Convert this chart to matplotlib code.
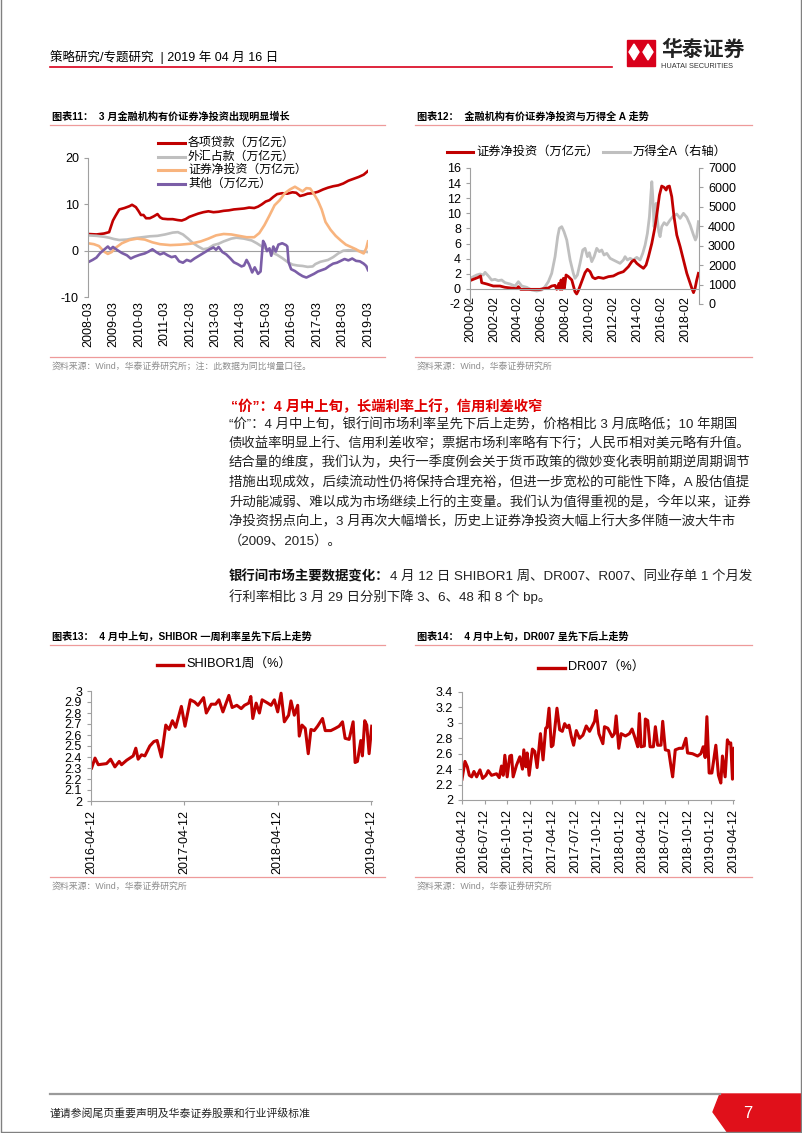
"""Page 7 of the Huatai strategy report: four charts plus commentary text.

Everything is placed in pixel coordinates of an 802x1133 page (dpi=100).
"""

import matplotlib
matplotlib.use("Agg")
import matplotlib.pyplot as plt
from matplotlib.lines import Line2D
from matplotlib.patches import Polygon, Rectangle

plt.rcParams["font.family"] = ["Liberation Sans", "Noto Sans CJK SC"]
plt.rcParams["axes.unicode_minus"] = False

W, H = 802, 1133
RED = "#C00000"
GREY = "#BFBFBF"
ORANGE = "#F8B47E"
PURPLE = "#7B5EA7"
AXIS = "#A0A0A0"
PINK = "#EE9A9A"
BRAND = "#D9001B"
SOURCE = "#8C8C8C"

# ---- chart 11: monthly-ish readings, decimal years ----
LOAN_T = [2008.17, 2008.5, 2008.8, 2009.0, 2009.15, 2009.25, 2009.4, 2009.6, 2009.8, 2009.9,
          2010.05, 2010.15, 2010.25, 2010.35, 2010.45, 2010.6, 2010.75, 2010.9, 2011.0, 2011.1,
          2011.3, 2011.5, 2011.7, 2011.85, 2012.0, 2012.15, 2012.3, 2012.5, 2012.7, 2012.9,
          2013.1, 2013.3, 2013.5, 2013.7, 2013.9, 2014.1, 2014.3, 2014.5, 2014.7, 2014.85,
          2015.0, 2015.15, 2015.3, 2015.45, 2015.6, 2015.8, 2016.0, 2016.2, 2016.35, 2016.5,
          2016.65, 2016.8, 2017.0, 2017.2, 2017.4, 2017.6, 2017.8, 2018.0, 2018.2, 2018.4,
          2018.6, 2018.8, 2019.0, 2019.17]
LOAN_V = [3.6, 3.5, 3.7, 4.0, 6.5, 7.5, 8.9, 9.2, 9.6, 9.9,
          9.4, 8.6, 7.7, 7.7, 7.0, 7.0, 7.4, 7.9, 7.2, 6.9,
          6.8, 6.8, 6.6, 6.5, 6.8, 7.3, 7.6, 8.0, 8.3, 8.5,
          8.3, 8.4, 8.6, 8.7, 8.9, 9.0, 9.1, 9.3, 9.2, 9.5,
          10.0, 10.6, 10.9, 11.6, 12.2, 12.4, 12.3, 12.6, 12.5, 11.8,
          12.0, 12.3, 12.4, 12.7, 13.2, 13.6, 13.9, 14.1, 14.5, 15.1,
          15.5, 15.9, 16.4, 17.2]

FX_T = [2008.17, 2008.5, 2008.8, 2009.0, 2009.2, 2009.4, 2009.7, 2010.0, 2010.3, 2010.6,
        2010.9, 2011.2, 2011.5, 2011.7, 2011.9, 2012.1, 2012.3, 2012.5, 2012.7, 2012.9,
        2013.1, 2013.3, 2013.5, 2013.8, 2014.0, 2014.3, 2014.6, 2014.8, 2015.0, 2015.2,
        2015.4, 2015.6, 2015.8, 2016.0, 2016.2, 2016.4, 2016.6, 2016.8, 2017.0, 2017.1,
        2017.3, 2017.6, 2017.8, 2018.0, 2018.2, 2018.4, 2018.7, 2019.0, 2019.17]
FX_V = [3.3, 3.2, 3.0, 2.8, 2.5, 2.3, 2.4, 2.7, 2.9, 3.1,
        3.2, 3.5, 3.9, 4.0, 3.5, 2.6, 1.6, 0.9, 0.3, 0.5,
        1.2, 1.5, 2.0, 2.6, 2.8, 2.6, 2.2, 1.6, 0.9, 0.3,
        -0.4, -0.9, -1.6, -2.4, -3.0, -3.2, -3.3, -3.5, -3.4, -2.9,
        -2.4, -2.0, -1.4, -0.6, 0.0, 0.1, 0.0, -0.2, -0.3]

BOND_T = [2008.17, 2008.4, 2008.6, 2008.8, 2008.95, 2009.1, 2009.25, 2009.5, 2009.8, 2010.1,
          2010.4, 2010.7, 2011.0, 2011.4, 2011.8, 2012.2, 2012.6, 2012.9, 2013.2, 2013.5,
          2013.8, 2014.1, 2014.4, 2014.7, 2014.9, 2015.1, 2015.3, 2015.5, 2015.7, 2015.9,
          2016.1, 2016.3, 2016.45, 2016.6, 2016.75, 2016.9, 2017.05, 2017.2, 2017.35, 2017.5,
          2017.7, 2017.9, 2018.1, 2018.3, 2018.5, 2018.7, 2018.85, 2019.0, 2019.1, 2019.17]
BOND_V = [1.6, 1.4, 1.0, -0.2, -0.7, -0.3, 0.6, 1.6, 2.3, 2.6,
          2.4, 1.8, 1.4, 1.2, 1.3, 1.5, 2.0, 2.6, 3.3, 3.6,
          3.5, 3.2, 2.9, 2.9, 3.8, 5.5, 7.6, 9.8, 10.9, 12.4,
          13.2, 13.8, 13.3, 12.8, 13.5, 13.4, 12.2, 10.8, 8.9, 6.2,
          4.5, 3.2, 2.2, 1.3, 0.8, 0.3, -0.2, -0.6, 0.5, 2.0]

OTHER_T = [2008.17, 2008.35, 2008.5, 2008.65, 2008.8, 2008.95, 2009.05, 2009.15, 2009.3, 2009.5,
           2009.7, 2009.85, 2010.0, 2010.2, 2010.4, 2010.55, 2010.7, 2010.85, 2011.0, 2011.15,
           2011.3, 2011.45, 2011.6, 2011.75, 2011.9, 2012.05, 2012.2, 2012.35, 2012.5, 2012.65,
           2012.8, 2012.95, 2013.1, 2013.2, 2013.3, 2013.45, 2013.6, 2013.75, 2013.9, 2014.05,
           2014.2, 2014.3, 2014.4, 2014.5, 2014.62, 2014.72, 2014.85, 2014.95, 2015.0, 2015.05,
           2015.12, 2015.2, 2015.3, 2015.37, 2015.45, 2015.55, 2015.65, 2015.8, 2015.95, 2016.0,
           2016.05, 2016.15, 2016.3, 2016.45, 2016.6, 2016.75, 2016.9, 2017.05, 2017.2, 2017.35,
           2017.5, 2017.65, 2017.8, 2017.95, 2018.1, 2018.25, 2018.4, 2018.55, 2018.7, 2018.85,
           2019.0, 2019.1, 2019.17]
OTHER_V = [-2.5, -2.0, -1.5, -0.5, 0.2, 0.9, 0.3, 0.8, 0.2, -0.5,
           -1.0, -1.7, -1.3, -0.9, -0.6, -0.2, 0.3, -0.3, -0.8, -0.5,
           -1.0, -1.4, -1.2, -2.3, -2.6, -2.0, -2.3, -1.7, -1.2, -0.7,
           -0.2, 0.3, 0.7, 0.2, 0.8, -0.3, -0.8, -1.6, -2.5, -2.9,
           -3.4, -3.2, -2.0, -3.0, -4.7, -3.6, -5.0, -4.5, -1.0, 2.1,
           1.4, -0.1, 0.5, -1.1, 0.9, -0.2, 1.3, 1.6, 1.2, 0.9,
           -2.5, -4.0, -4.4, -5.0, -5.5, -5.8, -5.4, -5.0, -4.5, -4.2,
           -3.9, -3.3, -2.8, -2.6, -2.2, -1.8, -2.1, -1.7, -2.2, -2.3,
           -2.8, -3.3, -4.2]

X11_LABELS = ["2008-03", "2009-03", "2010-03", "2011-03", "2012-03", "2013-03",
              "2014-03", "2015-03", "2016-03", "2017-03", "2018-03", "2019-03"]
LEGEND11 = ["各项贷款（万亿元）", "外汇占款（万亿元）", "证券净投资（万亿元）", "其他（万亿元）"]

# ---- chart 12 ----
SEC_T = [2000.08, 2000.36, 2000.78, 2000.97, 2001.06, 2001.48, 2002.03, 2002.59, 2003.01, 2003.71,
         2003.99, 2004.13, 2004.32, 2004.83, 2005.94, 2006.22, 2006.64, 2006.92, 2007.20, 2007.34,
         2007.53, 2007.62, 2007.70, 2007.79, 2007.90, 2007.98, 2008.12, 2008.32, 2008.60, 2008.87,
         2009.01, 2009.15, 2009.43, 2009.71, 2009.91, 2010.13, 2010.35, 2010.55, 2010.83, 2011.25,
         2011.67, 2012.08, 2012.50, 2012.92, 2013.34, 2013.62, 2013.82, 2014.04, 2014.32, 2014.60,
         2014.82, 2015.02, 2015.30, 2015.57, 2015.77, 2015.94, 2016.13, 2016.33, 2016.50, 2016.61,
         2016.77, 2016.97, 2017.16, 2017.39, 2017.67, 2017.95, 2018.23, 2018.51, 2018.65, 2018.79,
         2018.92, 2019.06, 2019.20]
SEC_V = [1.09, 1.27, 1.53, 1.71, 0.82, 0.65, 0.38, 0.38, 0.21, 0.08,
         0.03, 0.29, -0.06, -0.06, -0.06, 0.03, 0.12, 0.38, 0.47, -0.06,
         0.74, -0.06, 1.18, -0.06, 1.40, 0.08, 1.84, 1.62, 1.18, -0.37,
         -0.67, -0.23, 0.96, 2.15, 2.59, 2.28, 1.53, 1.35, 1.53, 1.40,
         1.62, 1.71, 2.06, 2.28, 2.94, 3.60, 3.82, 3.38, 3.03, 2.72,
         3.16, 4.26, 6.03, 8.23, 10.44, 12.42, 13.61, 13.44, 13.08, 13.52,
         13.61, 12.2, 9.55, 7.13, 5.59, 3.82, 2.06, 0.74, 0.08, -0.5,
         0.08, 1.18, 2.06]

WIND_T = [2000.08, 2000.36, 2000.64, 2000.92, 2001.20, 2001.34, 2001.62, 2001.89, 2002.17, 2002.45,
          2002.73, 2003.01, 2003.43, 2003.85, 2004.13, 2004.41, 2004.83, 2005.24, 2005.66, 2006.08,
          2006.36, 2006.64, 2006.92, 2007.20, 2007.42, 2007.56, 2007.76, 2007.95, 2008.18, 2008.46,
          2008.73, 2008.87, 2009.07, 2009.29, 2009.52, 2009.71, 2009.91, 2010.07, 2010.27, 2010.47,
          2010.69, 2010.91, 2011.11, 2011.30, 2011.53, 2011.81, 2012.08, 2012.36, 2012.64, 2012.92,
          2013.06, 2013.26, 2013.48, 2013.76, 2014.04, 2014.32, 2014.54, 2014.74, 2014.93, 2015.10,
          2015.21, 2015.30, 2015.38, 2015.49, 2015.57, 2015.66, 2015.77, 2015.88, 2015.99, 2016.13,
          2016.33, 2016.55, 2016.83, 2017.11, 2017.39, 2017.67, 2017.95, 2018.23, 2018.51, 2018.79,
          2018.95, 2019.06, 2019.20]
WIND_V = [1321, 1407, 1493, 1544, 1493, 1630, 1441, 1235, 1270, 1201,
          1235, 1098, 1029, 926, 1149, 926, 858, 721, 669, 721,
          892, 1149, 1578, 2436, 3465, 3895, 3980, 3723, 3294, 2265,
          1578, 1321, 1493, 2093, 2779, 2865, 2436, 2642, 2179, 2436,
          2865, 2693, 2779, 2522, 2608, 2351, 2265, 2179, 2093, 2265,
          2436, 2265, 2351, 2265, 2402, 2265, 2608, 3037, 3637, 4495,
          5524, 6296, 5524, 3980, 4409, 5181, 4323, 3723, 3465, 3980,
          4186, 4066, 4323, 4529, 4632, 4409, 4667, 4461, 4066, 3551,
          3294, 3465, 4238]

X12_LABELS = ["2000-02", "2002-02", "2004-02", "2006-02", "2008-02",
              "2010-02", "2012-02", "2014-02", "2016-02", "2018-02"]

# ---- chart 13 ----
SHIBOR_T = [2016.287, 2016.323, 2016.358, 2016.447, 2016.490, 2016.536, 2016.582, 2016.607, 2016.661, 2016.732,
            2016.760, 2016.785, 2016.821, 2016.857, 2016.910, 2016.953, 2016.988, 2017.034, 2017.081, 2017.116,
            2017.152, 2017.187, 2017.248, 2017.287, 2017.344, 2017.390, 2017.426, 2017.486, 2017.515, 2017.568,
            2017.615, 2017.650, 2017.693, 2017.757, 2017.792, 2017.842, 2017.889, 2017.924, 2017.970, 2017.992,
            2018.013, 2018.049, 2018.084, 2018.113, 2018.173, 2018.209, 2018.244, 2018.280, 2018.316, 2018.351,
            2018.397, 2018.422, 2018.458, 2018.494, 2018.511, 2018.540, 2018.575, 2018.607, 2018.636, 2018.671,
            2018.707, 2018.760, 2018.789, 2018.849, 2018.896, 2018.938, 2018.974, 2019.002, 2019.045, 2019.088,
            2019.109, 2019.134, 2019.170, 2019.187, 2019.212, 2019.234, 2019.259, 2019.287]
SHIBOR_V = [2.30, 2.39, 2.33, 2.34, 2.38, 2.31, 2.36, 2.33, 2.37, 2.41,
            2.48, 2.38, 2.42, 2.41, 2.50, 2.54, 2.55, 2.40, 2.69, 2.65,
            2.73, 2.67, 2.86, 2.68, 2.92, 2.90, 2.87, 2.94, 2.80, 2.88,
            2.88, 2.92, 2.81, 2.96, 2.85, 2.87, 2.84, 2.87, 2.89, 2.95,
            2.75, 2.89, 2.80, 2.92, 2.89, 2.87, 2.92, 2.81, 2.98, 2.72,
            2.78, 2.91, 2.78, 2.87, 2.59, 2.69, 2.66, 2.43, 2.65, 2.64,
            2.68, 2.75, 2.64, 2.64, 2.66, 2.68, 2.72, 2.57, 2.56, 2.72,
            2.35, 2.36, 2.55, 2.41, 2.73, 2.69, 2.43, 2.68]
X13_LABELS = ["2016-04-12", "2017-04-12", "2018-04-12", "2019-04-12"]
Y13_LABELS = ["2", "2.1", "2.2", "2.3", "2.4", "2.5", "2.6", "2.7", "2.8", "2.9", "3"]

# ---- chart 14 ----
DR_T = [2016.280, 2016.313, 2016.339, 2016.361, 2016.387, 2016.412, 2016.442, 2016.479, 2016.508, 2016.545,
        2016.570, 2016.607, 2016.662, 2016.692, 2016.717, 2016.736, 2016.754, 2016.780, 2016.809, 2016.828,
        2016.846, 2016.883, 2016.920, 2016.949, 2016.964, 2016.986, 2017.001, 2017.023, 2017.059, 2017.085,
        2017.111, 2017.148, 2017.177, 2017.206, 2017.221, 2017.243, 2017.269, 2017.287, 2017.331, 2017.361,
        2017.390, 2017.416, 2017.442, 2017.464, 2017.490, 2017.515, 2017.545, 2017.581, 2017.618, 2017.655,
        2017.692, 2017.747, 2017.765, 2017.795, 2017.839, 2017.857, 2017.894, 2017.942, 2017.967, 2017.986,
        2018.015, 2018.041, 2018.089, 2018.133, 2018.162, 2018.199, 2018.225, 2018.243, 2018.262, 2018.298,
        2018.309, 2018.335, 2018.361, 2018.398, 2018.420, 2018.445, 2018.482, 2018.501, 2018.530, 2018.567,
        2018.592, 2018.611, 2018.640, 2018.684, 2018.721, 2018.758, 2018.776, 2018.831, 2018.887, 2018.923,
        2018.949, 2018.971, 2018.990, 2019.015, 2019.045, 2019.089, 2019.118, 2019.144, 2019.162, 2019.192,
        2019.217, 2019.236, 2019.254, 2019.273, 2019.291]
DR_V = [2.27, 2.50, 2.43, 2.32, 2.30, 2.37, 2.30, 2.39, 2.28, 2.32,
        2.38, 2.32, 2.34, 2.29, 2.44, 2.32, 2.58, 2.30, 2.57, 2.58,
        2.30, 2.45, 2.56, 2.40, 2.65, 2.43, 2.61, 2.32, 2.66, 2.63,
        2.42, 2.86, 2.52, 2.93, 2.94, 3.19, 2.69, 2.71, 3.19, 2.91,
        2.89, 2.99, 2.94, 2.97, 2.82, 2.71, 2.90, 2.80, 2.84, 2.96,
        2.89, 3.02, 3.16, 2.86, 2.73, 2.95, 2.93, 2.82, 2.86, 3.09,
        2.67, 2.86, 2.83, 2.86, 2.92, 2.79, 2.69, 3.12, 2.69, 2.70,
        3.05, 3.03, 2.69, 2.69, 2.95, 2.71, 2.71, 3.02, 2.65, 2.64,
        2.44, 2.30, 2.65, 2.67, 2.67, 2.80, 2.61, 2.60, 2.57, 2.60,
        2.69, 2.55, 3.08, 2.35, 2.35, 2.71, 2.32, 2.22, 2.57, 2.30,
        2.78, 2.73, 2.74, 2.27, 2.67]
X14_LABELS = ["2016-04-12", "2016-07-12", "2016-10-12", "2017-01-12", "2017-04-12",
              "2017-07-12", "2017-10-12", "2018-01-12", "2018-04-12", "2018-07-12",
              "2018-10-12", "2019-01-12", "2019-04-12"]
Y14_LABELS = ["2", "2.2", "2.4", "2.6", "2.8", "3", "3.2", "3.4"]

BODY = [
    "“价”：4 月中上旬，银行间市场利率呈先下后上走势，价格相比 3 月底略低；10 年期国",
    "债收益率明显上行、信用利差收窄；票据市场利率略有下行；人民币相对美元略有升值。",
    "结合量的维度，我们认为，央行一季度例会关于货币政策的微妙变化表明前期逆周期调节",
    "措施出现成效，后续流动性仍将保持合理充裕，但进一步宽松的可能性下降，A 股估值提",
    "升动能减弱、难以成为市场继续上行的主变量。我们认为值得重视的是，今年以来，证券",
    "净投资拐点向上，3 月再次大幅增长，历史上证券净投资大幅上行大多伴随一波大牛市",
    "（2009、2015）。",
]

fig = plt.figure(figsize=(W / 100, H / 100), dpi=100)
fig.patch.set_facecolor("white")


def fx(x):
    return x / W


def fy(y):
    return 1 - y / H


def ax_px(left, top, right, bottom):
    return fig.add_axes([fx(left), fy(bottom), (right - left) / W, (bottom - top) / H])


def hline(x0, x1, y, color, lw):
    fig.add_artist(Line2D([fx(x0), fx(x1)], [fy(y), fy(y)], color=color, lw=lw,
                          transform=fig.transFigure))


def text(x, y, s, **kw):
    kw.setdefault("va", "center")
    return fig.text(fx(x), fy(y), s, **kw)


def legend_entry(x0, x1, y, color, label, lw=2.2, size=8.6):
    hline(x0, x1, y, color, lw)
    text(x1 + 3, y, label, fontsize=size)


def base_style(ax):
    for s in ax.spines.values():
        s.set_visible(False)
        s.set_color(AXIS)
        s.set_linewidth(0.8)
    ax.tick_params(colors=AXIS, labelcolor="black", labelsize=9, length=3, width=0.8)
    ax.patch.set_alpha(0)


# ---- page furniture ----
text(50, 57, "策略研究/专题研究  | 2019 年 04 月 16 日", fontsize=9)
hline(50, 612, 67, BRAND, 1.2)
fig.add_artist(Rectangle((fx(627), fy(66)), 28 / W, 26 / H, color=BRAND, transform=fig.transFigure))
for cx in (634, 648):
    fig.add_artist(Polygon([(fx(cx), fy(44)), (fx(cx + 5), fy(52)), (fx(cx), fy(60)), (fx(cx - 5), fy(52))],
                           closed=True, color="white", transform=fig.transFigure))
text(661, 50, "华泰证券", fontsize=15, fontweight="bold", color="#222222")
text(661, 66, "HUATAI SECURITIES", fontsize=5.3, color="#333333")

fig.add_artist(Line2D([0.001, 0.001, 0.999, 0.999], [1, 0.0005, 0.0005, 1], color="#808080", lw=1,
                      transform=fig.transFigure))
hline(50, 720, 1094, "#9A9A9A", 1.6)
fig.add_artist(Polygon([(fx(720), fy(1094)), (fx(802), fy(1094)), (fx(802), fy(1133)), (fx(728), fy(1133)),
                        (fx(713), fy(1112))], closed=True, color="#E0101A", transform=fig.transFigure))
text(748, 1113, "7", fontsize=12, color="white", ha="center")
text(50, 1113, "谨请参阅尾页重要声明及华泰证券股票和行业评级标准", fontsize=7.8, color="#222222")

# section titles / sources
for x0, x1, y_t, y_s, title, src in [
    (50, 385, 117, 367, "图表11：  3 月金融机构有价证券净投资出现明显增长", "资料来源：Wind，华泰证券研究所；注：此数据为同比增量口径。"),
    (415, 752, 117, 367, "图表12：  金融机构有价证券净投资与万得全 A 走势", "资料来源：Wind，华泰证券研究所"),
    (50, 385, 637, 887, "图表13：  4 月中上旬，SHIBOR 一周利率呈先下后上走势", "资料来源：Wind，华泰证券研究所"),
    (415, 752, 637, 887, "图表14：  4 月中上旬，DR007 呈先下后上走势", "资料来源：Wind，华泰证券研究所"),
]:
    text(x0 + 2, y_t, title, fontsize=7.3, fontweight="bold")
    hline(x0, x1, y_t + 8, PINK, 0.9)
    hline(x0, x1, y_s - 10, PINK, 0.9)
    text(x0 + 2, y_s, src, fontsize=6.4, color=SOURCE)

# ---- chart 11 ----
ax = ax_px(88, 158, 368, 297)
base_style(ax)
ax.plot(LOAN_T, LOAN_V, color=RED, lw=1.9)
ax.plot(FX_T, FX_V, color=GREY, lw=1.9)
ax.plot(BOND_T, BOND_V, color=ORANGE, lw=1.9)
ax.plot(OTHER_T, OTHER_V, color=PURPLE, lw=1.9)
ax.axhline(0, color=AXIS, lw=0.8, zorder=0)
ax.set_xlim(2008.17, 2019.17)
ax.set_ylim(-10, 20)
ax.set_yticks([-10, 0, 10, 20])
ax.set_xticks([2008.17 + k for k in range(len(X11_LABELS))])
ax.set_xticklabels(X11_LABELS)
ax.spines["left"].set_visible(True)
ax.tick_params(axis="x", length=0, pad=3, labelrotation=90)
for i, (label, color) in enumerate(zip(LEGEND11, [RED, GREY, ORANGE, PURPLE])):
    legend_entry(158, 185, 143 + i * 13.5, color, label)

# ---- chart 12 ----
ax = ax_px(470, 168, 699, 304)
axr = ax.twinx()
base_style(ax)
base_style(axr)
ax.spines["left"].set_visible(True)
ax.spines["bottom"].set_visible(True)
ax.spines["bottom"].set_position(("data", 0))
axr.spines["right"].set_visible(True)
axr.plot(WIND_T, WIND_V, color=GREY, lw=2.0)
ax.plot(SEC_T, SEC_V, color=RED, lw=2.0)
ax.set_zorder(axr.get_zorder() + 1)
ax.set_xlim(2000.08, 2019.25)
ax.set_ylim(-2, 16)
axr.set_ylim(0, 7000)
ax.set_yticks(range(-2, 17, 2))
axr.set_yticks(range(0, 7001, 1000))
ax.set_xticks([2000.08 + 2 * k for k in range(len(X12_LABELS))])
ax.set_xticklabels(X12_LABELS)
ax.tick_params(axis="x", length=0, pad=5, labelrotation=90, labelsize=9)
legend_entry(447, 473, 152, RED, "证券净投资（万亿元）", size=8.8)
legend_entry(603, 630, 152, GREY, "万得全A（右轴）", size=8.8)

# ---- chart 13 ----
ax = ax_px(91, 691, 372, 801)
base_style(ax)
ax.plot(SHIBOR_T, SHIBOR_V, color=RED, lw=2.2)
ax.set_xlim(2016.28, 2019.29)
ax.set_ylim(2, 3)
ax.set_yticks([2 + 0.1 * k for k in range(len(Y13_LABELS))])
ax.set_yticklabels(Y13_LABELS)
ax.set_xticks([2016.28 + k for k in range(len(X13_LABELS))])
ax.set_xticklabels(X13_LABELS)
ax.tick_params(axis="x", labelrotation=90)
ax.spines["left"].set_visible(True)
ax.spines["bottom"].set_visible(True)
legend_entry(157, 183, 665, RED, "SHIBOR1周（%）", lw=2.4, size=9.2)

# ---- chart 14 ----
ax = ax_px(462, 692, 734, 800)
base_style(ax)
ax.plot(DR_T, DR_V, color=RED, lw=2.2)
ax.set_xlim(2016.28, 2019.29)
ax.set_ylim(2, 3.4)
ax.set_yticks([2 + 0.2 * k for k in range(len(Y14_LABELS))])
ax.set_yticklabels(Y14_LABELS)
ax.set_xticks([2016.28 + 0.25 * k for k in range(len(X14_LABELS))])
ax.set_xticklabels(X14_LABELS)
ax.tick_params(axis="x", labelrotation=90)
ax.spines["left"].set_visible(True)
ax.spines["bottom"].set_visible(True)
legend_entry(538, 565, 668, RED, "DR007（%）", lw=2.4, size=9.2)

# ---- commentary ----
text(231, 407, "“价”：4 月中上旬，长端利率上行，信用利差收窄", fontsize=10.3, fontweight="bold", color="#E00000")
for i, line in enumerate(BODY):
    text(229, 424 + i * 19.6, line, fontsize=9.65, color="#222222")

renderer = fig.canvas.get_renderer()
head = text(229, 577, "银行间市场主要数据变化：", fontsize=9.65, fontweight="bold", color="#111111")
bb = head.get_window_extent(renderer)
text(bb.x1 / W * W, 577, "4 月 12 日 SHIBOR1 周、DR007、R007、同业存单 1 个月发", fontsize=9.65, color="#222222")
text(229, 597, "行利率相比 3 月 29 日分别下降 3、6、48 和 8 个 bp。", fontsize=9.65, color="#222222")

fig.savefig("out.png", dpi=100, facecolor="white")
